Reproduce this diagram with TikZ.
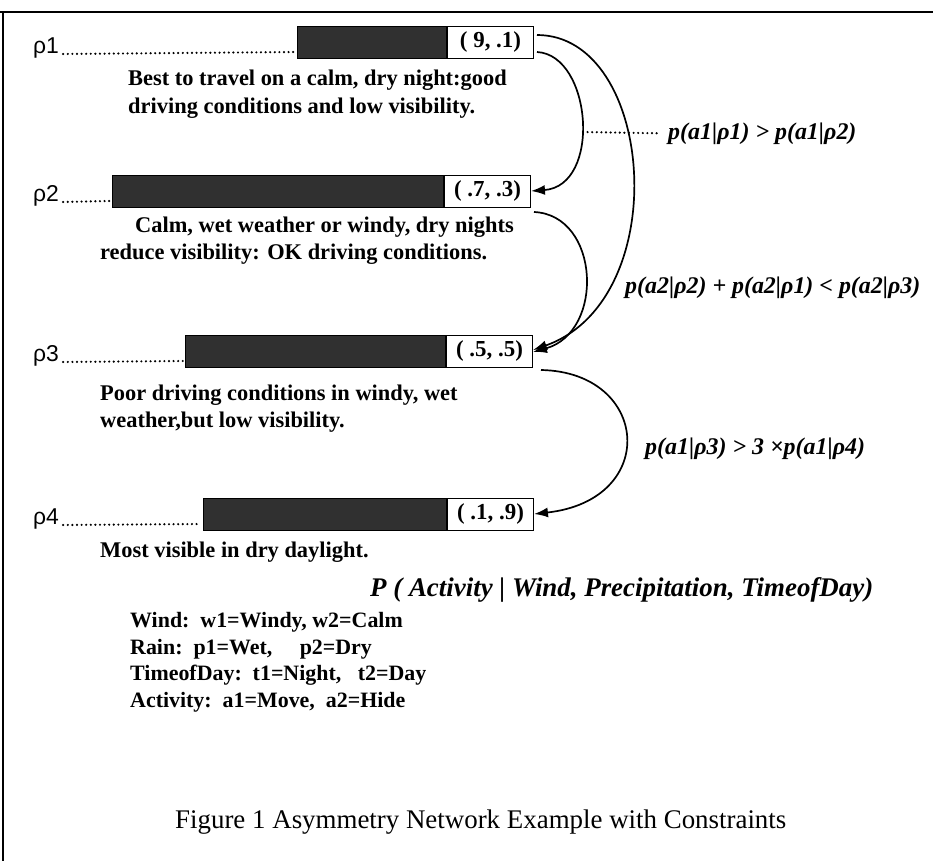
\documentclass[tikz,border=0pt]{standalone}
\usepackage{fontspec}
\setmainfont{Liberation Serif}
\newfontfamily\rhofont{Liberation Sans}
\usetikzlibrary{arrows.meta, positioning, calc}
\definecolor{shade}{HTML}{303030}

\begin{document}
\begin{tikzpicture}[x=1bp, y=-1bp,
    bar/.style={draw=black, fill=shade, line width=1pt, anchor=west, minimum height=32bp, inner sep=0pt},
    val/.style={draw=black, fill=white, line width=1pt, anchor=west, minimum width=86bp, minimum height=32bp, inner sep=0pt, font=\fontsize{23}{26}\selectfont\bfseries},
    rho/.style={anchor=base west, inner sep=0pt, font=\fontsize{23}{24}\selectfont\rhofont},
    desc/.style={anchor=base west, inner sep=0pt, font=\fontsize{22.5}{26}\selectfont\bfseries},
    cons/.style={anchor=base west, inner sep=0pt, font=\fontsize{24}{28}\selectfont\bfseries\itshape},
    legend/.style={anchor=base west, inner sep=0pt, font=\fontsize{22}{26}\selectfont\bfseries},
    dotline/.style={line width=2.4pt, line cap=round, dash pattern=on 0pt off 4.6bp},
    link/.style={line width=1.7pt, -{Latex[length=14pt, width=10pt]}}]
  \useasboundingbox (0,0) rectangle (933,861);
  % frame
  \draw[line width=2.2pt] (0,12) -- (933,12);
  \draw[line width=1.6pt] (3,12) -- (3,861);

  % activity bars
  \node[bar, minimum width=149bp] (b1) at (297,42) {};
  \node[val] (v1) at (b1.east) {( 9, .1)};
  \node[bar, minimum width=331bp] (b2) at (112,191) {};
  \node[val] (v2) at (b2.east) {( .7, .3)};
  \node[bar, minimum width=260bp] (b3) at (185,351) {};
  \node[val] (v3) at (b3.east) {( .5, .5)};
  \node[bar, minimum width=243bp] (b4) at (203,514) {};
  \node[val] (v4) at (b4.east) {( .1, .9)};

  \node[rho] (r1) at (33,53) {ρ1};
  \node[rho] (r2) at (33,201) {ρ2};
  \node[rho] (r3) at (33,361) {ρ3};
  \node[rho] (r4) at (33,524) {ρ4};
  \draw[dotline] ([xshift=4bp,yshift=-1bp]r1.base east) -- ([shift={(-2bp,-10bp)}]b1.west);
  \draw[dotline] ([xshift=4bp,yshift=-1bp]r2.base east) -- ([shift={(-2bp,-10bp)}]b2.west);
  \draw[dotline] ([xshift=4bp,yshift=-1bp]r3.base east) -- ([shift={(-2bp,-10bp)}]b3.west);
  \draw[dotline] ([xshift=4bp,yshift=-1bp]r4.base east) -- ([shift={(-2bp,-10bp)}]b4.west);

  % descriptions
  \node[desc] (d1a) at (128,85) {Best to travel on a calm, dry night:good};
  \node[desc] (d1b) at (128,113) {driving conditions and low visibility.};
  \node[desc] (d2a) at (135,232) {Calm, wet weather or windy, dry nights};
  \node[desc] (d2b) at (100,259) {reduce visibility: OK driving conditions.};
  \node[desc] (d3a) at (100,400) {Poor driving conditions in windy, wet};
  \node[desc] (d3b) at (100,427) {weather,but low visibility.};
  \node[desc] (d4) at (100,557) {Most visible in dry daylight.};

  % constraints
  \draw[link] ([shift={(3bp,7bp)}]v1.east) .. controls (655,35) and (675,300) .. ([yshift=1bp]v3.east);
  \draw[link] ([shift={(3bp,-10bp)}]v1.east) .. controls (592,55) and (602,186) .. (v2.east);
  \draw[link] ([shift={(3bp,-21bp)}]v2.east) .. controls (600,215) and (605,332) .. ([yshift=-1bp]v3.east);
  \draw[link] ([shift={(8bp,-19bp)}]v3.east) .. controls (650,372) and (660,500) .. (v4.east);

  \coordinate (c1) at (583,132);
  \node[cons] (k1) at (668,139) {p(a1|ρ1) > p(a1|ρ2)};
  \draw[dotline] (c1) -- ([xshift=-10bp]k1.west);
  \node[cons] (k2) at (625,293) {p(a2|ρ2) + p(a2|ρ1) < p(a2|ρ3)};
  \node[cons] (k3) at (645,454) {p(a1|ρ3) > 3 ×p(a1|ρ4)};

  \node[cons, font=\fontsize{27}{30}\selectfont\bfseries\itshape] (dist) at (370,596) {P ( Activity | Wind, Precipitation, TimeofDay)};

  % legend
  \node[legend] (w) at (130,627) {Wind:\ \ w1=Windy, w2=Calm};
  \node[legend] (p) at (130,654) {Rain:\ \ p1=Wet,\ \ \ \ \ p2=Dry};
  \node[legend] (t) at (130,680) {TimeofDay:\ \ t1=Night,\ \ \ t2=Day};
  \node[legend] (a) at (130,707) {Activity:\ \ a1=Move,\ \ a2=Hide};

  \node[desc, font=\fontsize{27}{30}\selectfont] (cap) at (175,828) {Figure 1 Asymmetry Network Example with Constraints};
\end{tikzpicture}
\end{document}
